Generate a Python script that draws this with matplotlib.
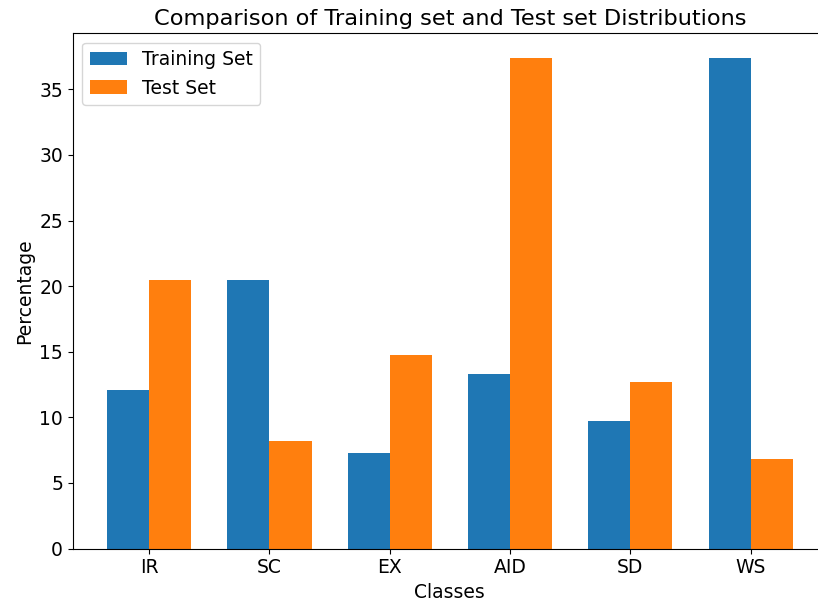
import numpy as np
import matplotlib
matplotlib.use('Agg')
import matplotlib.pyplot as plt

classes = ['IR', 'SC', 'EX', 'AID', 'SD', 'WS']
train_pct = [12.07, 20.45, 7.25, 13.28, 9.72, 37.4]
test_pct = [20.45, 8.17, 14.72, 37.4, 12.66, 6.84]

plt.rcParams['font.size'] = 13.5

x = np.arange(len(classes))
width = 0.35

fig = plt.figure(figsize=(8.18, 6.08), dpi=100)
# axes run past the right edge of the picture, as in the reference crop
left, right, top, bottom = 72.7, 827, 33.3, 548.5
ax = fig.add_axes([left/818, 1 - bottom/608, (right - left)/818, (bottom - top)/608])

ax.bar(x - width/2, train_pct, width, label='Training Set')
ax.bar(x + width/2, test_pct, width, label='Test Set')

ax.set_xlabel('Classes')
ax.set_ylabel('Percentage')
ax.set_title('Comparison of Training set and Test set Distributions', fontsize=16.2)
ax.set_xticks(x)
ax.set_xticklabels(classes)
ax.legend(loc='upper left')

plt.savefig('out.png')
